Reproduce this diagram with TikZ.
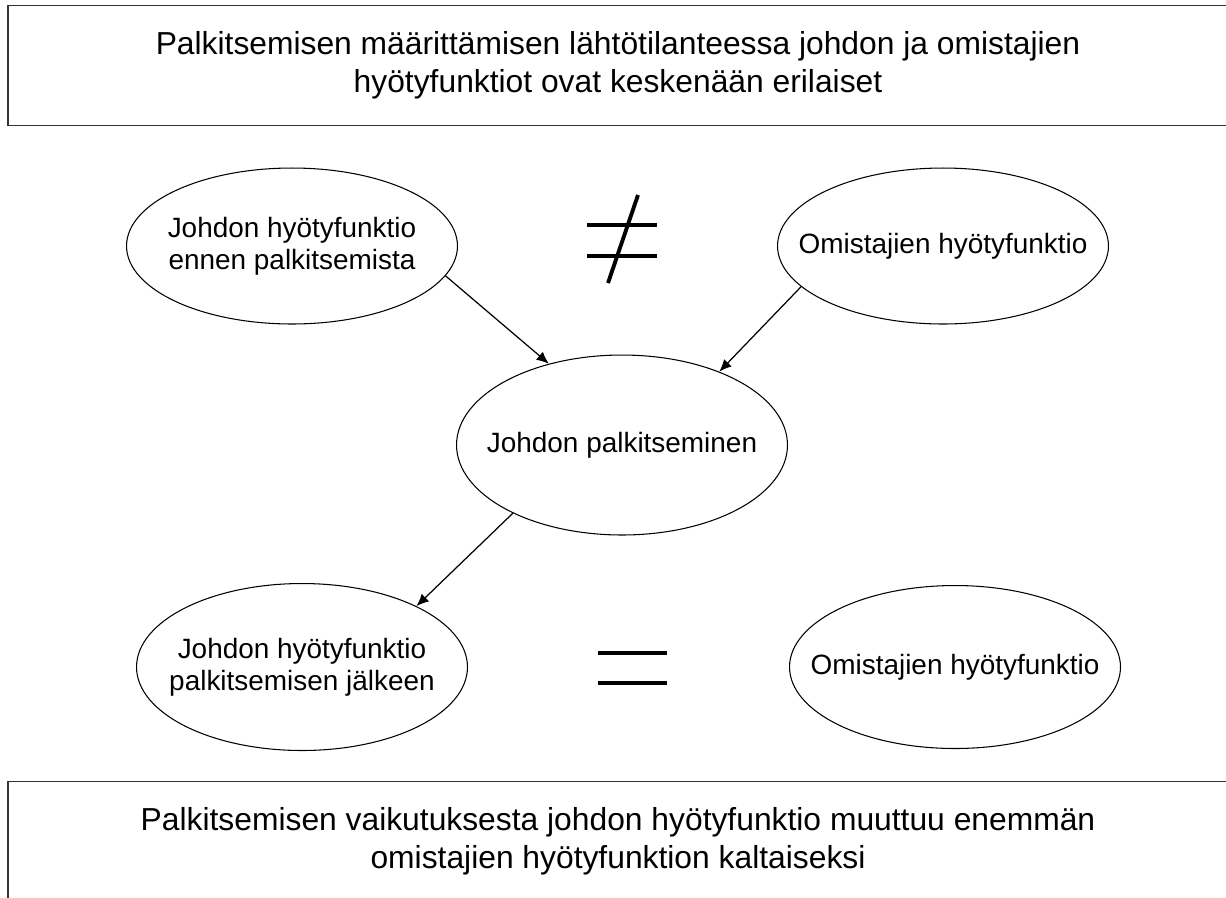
\documentclass[tikz,border=0pt]{standalone}
\usepackage{fontspec}
\setmainfont{Liberation Sans}
\usetikzlibrary{shapes.geometric,arrows.meta}

\begin{document}
\begin{tikzpicture}[x=0.02cm,y=-0.02cm]
\tikzstyle{oval}=[draw,ellipse,line width=0.6pt,minimum width=6.62cm,inner sep=0pt]
\tikzstyle{ovaltext}=[align=center,inner sep=0pt,font=\fontsize{15.9}{18.4}\selectfont]
\tikzstyle{box}=[rectangle,inner sep=0pt,align=center,font=\fontsize{18.1}{21.6}\selectfont]
\tikzstyle{frame}=[draw=black!80,line width=0.9pt]
\tikzstyle{link}=[-{Latex[length=7pt,width=6pt]},line width=0.7pt]
\tikzstyle{bar}=[line width=2.4pt]
\useasboundingbox (0,0) rectangle (1226,897);
\node[box,minimum width=24.4cm,minimum height=2.38cm] (alku) at (618,65.5)
	{Palkitsemisen määrittämisen lähtötilanteessa johdon ja omistajien\\hyötyfunktiot ovat keskenään erilaiset};
\node[box,minimum width=24.4cm,minimum height=2.36cm] (loppu) at (618,841)
	{Palkitsemisen vaikutuksesta johdon hyötyfunktio muuttuu enemmän\\omistajien hyötyfunktion kaltaiseksi};
\draw[frame] ([xshift=1cm]alku.north east) -- (alku.north west) -- (alku.south west) -- ([xshift=1cm]alku.south east);
\draw[frame] ([xshift=1cm]loppu.north east) -- (loppu.north west) -- (loppu.south west) -- ([xshift=1cm]loppu.south east);
\foreach \name/\point/\size/\label in {
	jh1/{292,246}/3.12/{Johdon hyötyfunktio\\ennen palkitsemista},
	oh1/{943,246}/3.12/{Omistajien hyötyfunktio},
	palk/{622,445}/3.6/{Johdon palkitseminen},
	jh2/{302,667}/3.34/{Johdon hyötyfunktio\\palkitsemisen jälkeen},
	oh2/{955,667}/3.26/{Omistajien hyötyfunktio}}
	\node[oval,minimum height=\size cm,label={[ovaltext]center:\label}] (\name) at (\point) {};
\draw[link] (jh1.-11.8) -- (palk.132);
\draw[link] (oh1.196.5) -- (palk.37.7);
\draw[link] (palk.212.3) -- (jh2.28.3);
% erisuuri ja yhtäsuuri
\draw[bar] (587,225) -- (657,225);
\draw[bar] (587,256) -- (657,256);
\draw[line width=2.2pt] (638,195) -- (608,283);
\draw[bar,line width=2.8pt] (598,653) -- (667,653);
\draw[bar,line width=2.8pt] (598,683) -- (667,683);
\end{tikzpicture}
\end{document}
